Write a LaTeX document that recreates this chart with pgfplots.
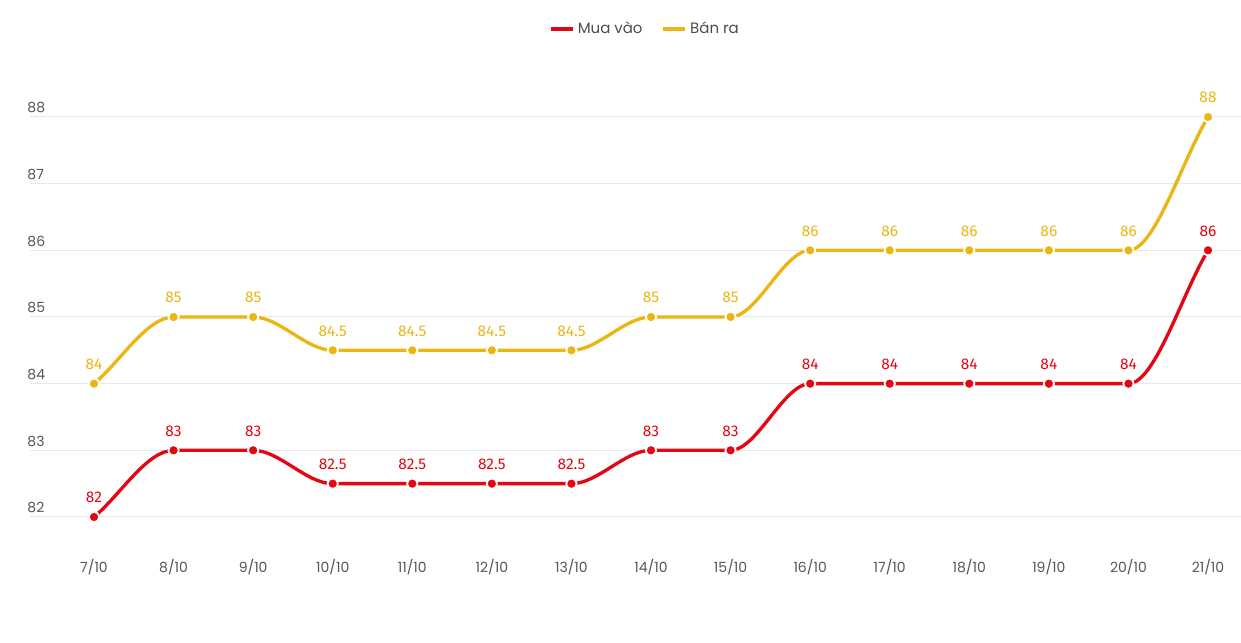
\documentclass[border=0pt]{standalone}
\usepackage{pgfplots}
\pgfplotsset{compat=1.18}
\usepackage{fontspec}
\setmainfont{Poppins}
\newfontfamily\labelfont{Fira Sans}
\definecolor{cred}{RGB}{227,6,19}
\definecolor{cyel}{RGB}{233,182,20}
\definecolor{tickgray}{RGB}{85,85,85}
\definecolor{gridgray}{RGB}{232,232,232}

\makeatletter
\newdimen\mono@ax \newdimen\mono@ay \newdimen\mono@bx \newdimen\mono@by
\newdimen\mono@cx \newdimen\mono@cy
\newdimen\mono@h \newdimen\mono@d
\newdimen\mono@pa \newdimen\mono@pb \newdimen\mono@qa \newdimen\mono@qb
\newcount\mono@n
\def\pgfplothandlermonotone{%
  \def\pgf@plotstreamstart{%
    \global\mono@n=0\relax
    \global\let\pgf@plotstreampoint=\mono@point
    \global\let\pgf@plotstreamspecial=\pgfutil@gobble
    \global\let\pgf@plotstreamend=\mono@end
  }%
}
\def\mono@point#1{%
  \pgf@process{#1}%
  \global\mono@cx=\pgf@x \global\mono@cy=\pgf@y
  \ifcase\mono@n
    \pgfpathmoveto{\pgfqpoint{\mono@cx}{\mono@cy}}%
    \global\mono@ax=\mono@cx \global\mono@ay=\mono@cy
    \global\mono@n=1\relax
  \or
    \global\mono@bx=\mono@cx \global\mono@by=\mono@cy
    \global\mono@n=2\relax
  \else
    \ifnum\mono@n=2 \mono@segment{1}{0}\else\mono@segment{0}{0}\fi
    \global\mono@ax=\mono@bx \global\mono@ay=\mono@by
    \global\mono@bx=\mono@cx \global\mono@by=\mono@cy
    \global\mono@n=3\relax
  \fi
}
\def\mono@end{%
  \ifnum\mono@n=2 \mono@segment{1}{1}\fi
  \ifnum\mono@n=3 \mono@segment{0}{1}\fi
}
\def\mono@segment#1#2{%
  \mono@h=\mono@bx \advance\mono@h by -\mono@ax \divide\mono@h by 3
  \mono@d=\mono@by \advance\mono@d by -\mono@ay \divide\mono@d by 3
  \mono@pa=\mono@ax \advance\mono@pa by \mono@h
  \mono@pb=\mono@ay \advance\mono@pb by #1\mono@d
  \mono@qa=\mono@bx \advance\mono@qa by -\mono@h
  \mono@qb=\mono@by \advance\mono@qb by -#2\mono@d
  \pgfpathcurveto{\pgfqpoint{\mono@pa}{\mono@pb}}{\pgfqpoint{\mono@qa}{\mono@qb}}{\pgfqpoint{\mono@bx}{\mono@by}}%
}
\tikzset{monotone/.code={\let\tikz@plot@handler=\pgfplothandlermonotone}}
\makeatother

\pgfplotstableread{
x buy sell
0 82 84
1 83 85
2 83 85
3 82.5 84.5
4 82.5 84.5
5 82.5 84.5
6 82.5 84.5
7 83 85
8 83 85
9 84 86
10 84 86
11 84 86
12 84 86
13 84 86
14 86 88
}\prices

\begin{document}
\begin{tikzpicture}
\useasboundingbox (0,0) rectangle (930.75pt,481.5pt);
\begin{axis}[
  at={(22.5pt,67.5pt)}, anchor=south west,
  scale only axis,
  width=908.25pt, height=354pt,
  xmin=-0.8043, xmax=14.4147,
  ymin=81.475, ymax=88.555,
  axis lines=left,
  axis line style={draw=none},
  tick style={draw=none},
  ymajorgrids,
  grid style={gridgray, line width=0.75pt},
  ytick={82,83,84,85,86,87,88},
  xtick={0,...,14},
  xticklabels={7/10,8/10,9/10,10/10,11/10,12/10,13/10,14/10,15/10,16/10,17/10,18/10,19/10,20/10,21/10},
  /pgf/number format/assume math mode=true,
  ticklabel style={font=\fontsize{10.5pt}{12pt}\selectfont, text=tickgray},
  xticklabel style={anchor=base, yshift=-12.9pt},
  yticklabel style={anchor=base west, inner sep=0pt, xshift=0pt, yshift=3pt},
  clip=false,
  legend style={draw=none, fill=none, at={(0.508,1.108)}, anchor=center,
    font=\fontsize{11.25pt}{13pt}\selectfont, text=tickgray!90!black,
    /tikz/every even column/.append style={column sep=12pt}},
  legend columns=2,
  legend image code/.code={\draw[#1, mark=none, line width=3.2pt] (0pt,0pt) -- (16.5pt,0pt);},
  nodes near coords,
  every node near coord/.append style={font=\labelfont\fontsize{11.6pt}{13pt}\selectfont, anchor=base, yshift=10.5pt},
]
\addplot[monotone, cred, line width=2.5pt, mark=*, mark size=3.9pt,
  mark options={fill=cred, draw=white, line width=1.3pt},
  every node near coord/.append style={text=cred}] table[x=x, y=buy] {\prices};
\addlegendentry{Mua vào}
\addplot[monotone, cyel, line width=2.5pt, mark=*, mark size=3.9pt,
  mark options={fill=cyel, draw=white, line width=1.3pt},
  every node near coord/.append style={text=cyel}] table[x=x, y=sell] {\prices};
\addlegendentry{Bán ra}
\end{axis}
\end{tikzpicture}
\end{document}
